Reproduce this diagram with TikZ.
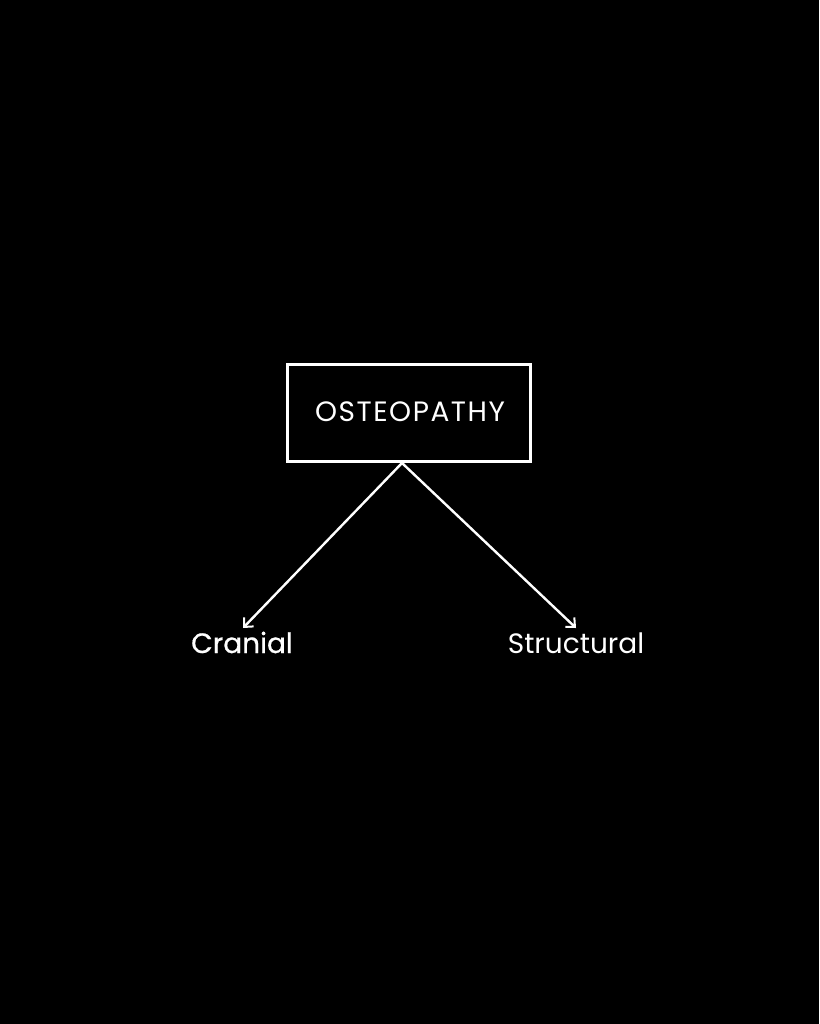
\documentclass[tikz,border=0pt]{standalone}
\usepackage{fontspec}
\setmainfont{Poppins}
\usetikzlibrary{arrows.meta}
\begin{document}
\begin{tikzpicture}[x=1pt,y=-1pt,
  lbl/.style={text=white,inner sep=0pt,anchor=base,font=\fontsize{28}{32}\selectfont},
  conn/.style={white,line width=2.4pt,-{Straight Barb[length=7pt,width=13pt,line width=2pt]}}]
\fill[black] (0,0) rectangle (819,1024);
\useasboundingbox (0,0) rectangle (819,1024);
\node[draw=white,line width=2.6pt,minimum width=243pt,minimum height=97pt,inner sep=0pt] (top) at (409,413) {};
\node[text=white,inner sep=0pt,anchor=base,font=\fontsize{28}{32}\selectfont\addfontfeature{LetterSpace=5.5}] (toptext) at (410,421.5) {OSTEOPATHY};
\coordinate (apex) at (402,463);
\node[lbl,font=\fontsize{28}{32}\selectfont\addfontfeature{FakeBold=0.6}] (cran) at (242,653) {Cranial};
\node[lbl] (struct) at (576,653) {Structural};
\coordinate (lt) at (243,628);
\coordinate (rt) at (576,628);
\draw[conn] (apex) -- (lt);
\draw[conn] (apex) -- (rt);
\end{tikzpicture}
\end{document}
